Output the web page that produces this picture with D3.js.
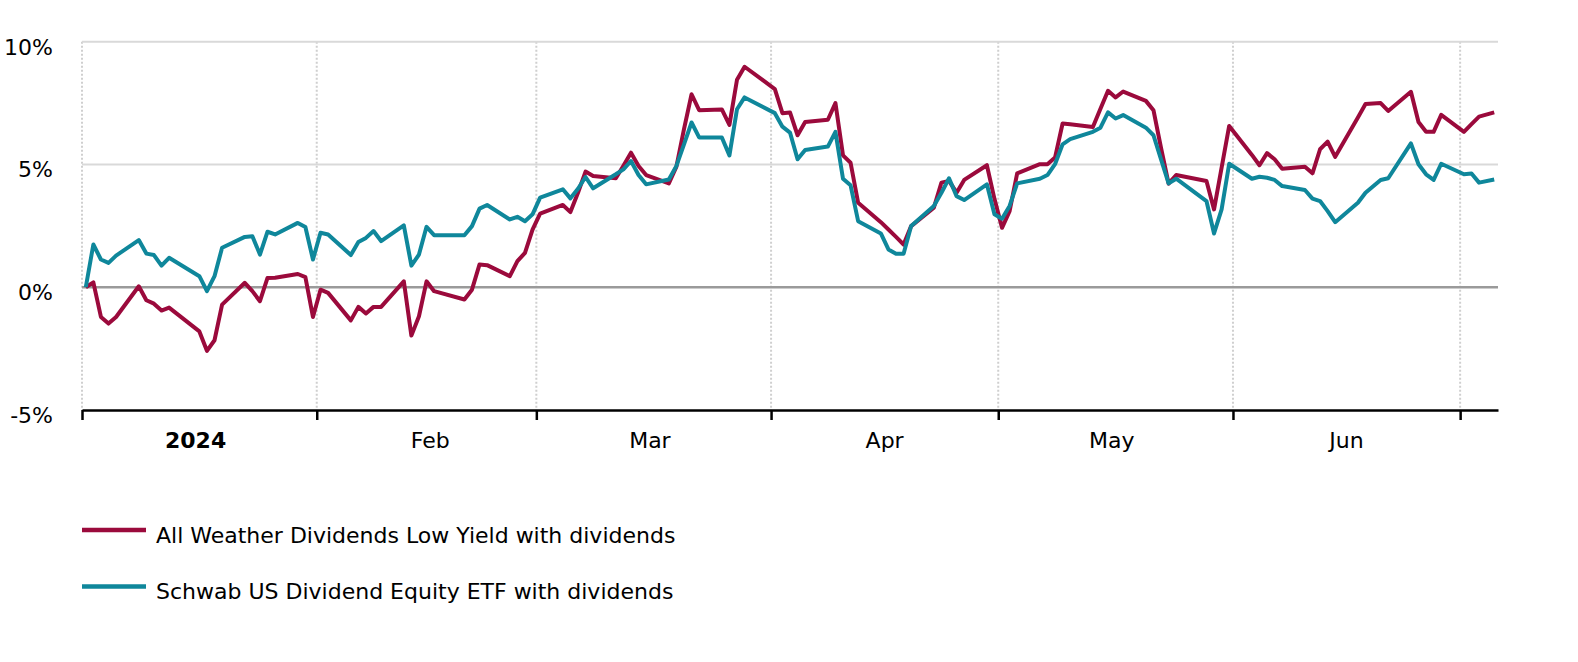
<!DOCTYPE html>
<html>
<head>
<meta charset="utf-8">
<script src="https://cdn.jsdelivr.net/npm/d3@7"></script>
<style>
    body { margin: 0; background: #fff; }
    text { font-family: "DejaVu Sans", Verdana, sans-serif; fill: #000; }
</style>
</head>
<body>
<div id="LineChart"></div>
<script>
var svgWidth = 1578;
var svgHeight = 662;

// trading days (first entry is the 0% base)
var dates = [
    "2024-01-01","2024-01-02","2024-01-03","2024-01-04","2024-01-05","2024-01-08","2024-01-09","2024-01-10","2024-01-11","2024-01-12",
    "2024-01-16","2024-01-17","2024-01-18","2024-01-19","2024-01-22","2024-01-23","2024-01-24","2024-01-25","2024-01-26",
    "2024-01-29","2024-01-30","2024-01-31","2024-02-01","2024-02-02","2024-02-05","2024-02-06","2024-02-07","2024-02-08","2024-02-09",
    "2024-02-12","2024-02-13","2024-02-14","2024-02-15","2024-02-16","2024-02-20","2024-02-21","2024-02-22","2024-02-23",
    "2024-02-26","2024-02-27","2024-02-28","2024-02-29","2024-03-01","2024-03-04","2024-03-05","2024-03-06","2024-03-07","2024-03-08",
    "2024-03-11","2024-03-12","2024-03-13","2024-03-14","2024-03-15","2024-03-18","2024-03-19","2024-03-20","2024-03-21","2024-03-22",
    "2024-03-25","2024-03-26","2024-03-27","2024-03-28","2024-04-01","2024-04-02","2024-04-03","2024-04-04","2024-04-05",
    "2024-04-08","2024-04-09","2024-04-10","2024-04-11","2024-04-12","2024-04-15","2024-04-16","2024-04-17","2024-04-18","2024-04-19",
    "2024-04-22","2024-04-23","2024-04-24","2024-04-25","2024-04-26","2024-04-29","2024-04-30","2024-05-01","2024-05-02","2024-05-03",
    "2024-05-06","2024-05-07","2024-05-08","2024-05-09","2024-05-10","2024-05-13","2024-05-14","2024-05-15","2024-05-16","2024-05-17",
    "2024-05-20","2024-05-21","2024-05-22","2024-05-23","2024-05-24","2024-05-28","2024-05-29","2024-05-30","2024-05-31",
    "2024-06-03","2024-06-04","2024-06-05","2024-06-06","2024-06-07","2024-06-10","2024-06-11","2024-06-12","2024-06-13","2024-06-14",
    "2024-06-17","2024-06-18","2024-06-20","2024-06-21","2024-06-24","2024-06-25","2024-06-26","2024-06-27","2024-06-28",
    "2024-07-01","2024-07-02","2024-07-03","2024-07-05"
];

// All Weather Dividends Low Yield with dividends (%)
var allWeather = [
    0, 0.20, -1.21, -1.48, -1.21, 0.04, -0.53, -0.67, -0.95, -0.83,
    -1.80, -2.59, -2.16, -0.71, 0.18, -0.16, -0.57, 0.38, 0.39,
    0.54, 0.41, -1.21, -0.10, -0.23, -1.35, -0.80, -1.07, -0.80, -0.80,
    0.24, -1.97, -1.18, 0.24, -0.16, -0.50, -0.10, 0.93, 0.90,
    0.45, 1.06, 1.40, 2.35, 3.00, 3.35, 3.06, 3.85, 4.71, 4.53,
    4.44, 4.95, 5.48, 4.94, 4.57, 4.23, 4.91, 6.44, 7.86, 7.21,
    7.24, 6.61, 8.45, 8.98, 8.07, 7.09, 7.12, 6.19, 6.73,
    6.82, 7.50, 5.37, 5.07, 3.44, 2.65, 2.35, 2.05, 1.74, 2.49,
    3.24, 4.26, 4.33, 3.85, 4.37, 4.97, 3.60, 2.42, 3.10, 4.64,
    5.01, 5.01, 5.28, 6.67, 6.64, 6.53, 7.27, 8.00, 7.73, 7.97,
    7.59, 7.21, 5.67, 4.22, 4.57, 4.33, 3.17, 4.87, 6.57,
    5.39, 4.97, 5.46, 5.21, 4.83, 4.91, 4.64, 5.62, 5.93, 5.31,
    6.91, 7.46, 7.50, 7.18, 7.96, 6.73, 6.33, 6.33, 7.02,
    6.33, 6.64, 6.95, 7.12
];

// Schwab US Dividend Equity ETF with dividends (%)
var schwab = [
    0, 1.74, 1.13, 0.99, 1.29, 1.92, 1.37, 1.31, 0.88, 1.20,
    0.45, -0.16, 0.45, 1.61, 2.05, 2.08, 1.33, 2.26, 2.15,
    2.62, 2.45, 1.13, 2.22, 2.15, 1.31, 1.84, 2.01, 2.29, 1.88,
    2.52, 0.88, 1.33, 2.46, 2.12, 2.12, 2.49, 3.20, 3.35,
    2.76, 2.87, 2.69, 2.97, 3.65, 3.99, 3.62, 4.01, 4.49, 4.03,
    4.60, 4.80, 5.14, 4.57, 4.19, 4.39, 4.94, 5.82, 6.71, 6.10,
    6.10, 5.37, 7.25, 7.73, 7.09, 6.54, 6.30, 5.21, 5.59,
    5.73, 6.33, 4.42, 4.15, 2.69, 2.19, 1.54, 1.36, 1.36, 2.49,
    3.31, 3.85, 4.44, 3.71, 3.55, 4.19, 2.97, 2.79, 3.31, 4.23,
    4.42, 4.57, 5.01, 5.82, 6.03, 6.33, 6.50, 7.12, 6.87, 7.01,
    6.50, 6.19, 5.21, 4.23, 4.42, 3.51, 2.19, 3.17, 5.03,
    4.42, 4.50, 4.46, 4.37, 4.12, 3.96, 3.61, 3.51, 3.10, 2.65,
    3.44, 3.85, 4.37, 4.44, 5.86, 5.01, 4.60, 4.37, 5.03,
    4.60, 4.63, 4.26, 4.39
];

var yTicks = [-5, 0, 5, 10];
var monthLabels = ["2024", "Feb", "Mar", "Apr", "May", "Jun"];
var seriesNames = ["All Weather Dividends Low Yield with dividends", "Schwab US Dividend Equity ETF with dividends"];
var seriesColors = ["#9b0a3c", "#0f879b"];

var parseDate = d3.timeParse("%Y-%m-%d");

var plot = { left: 82, right: 1498, top: 41.7, bottom: 410 };

var svg = d3.select("#LineChart")
    .append("svg")
    .attr("width", svgWidth)
    .attr("height", svgHeight);

var xTimeScale = d3.scaleTime()
    .domain([new Date(2024, 0, 1), new Date(2024, 6, 6)])
    .range([plot.left, plot.right]);

var yLinearScale = d3.scaleLinear()
    .domain([-5, 10])
    .range([plot.bottom, plot.top]);

// points sit at midday of each date
var series = [allWeather, schwab].map((vals) => {
    return vals.map((v, i) => ({
        date: d3.timeHour.offset(parseDate(dates[i]), 12),
        value: v
    }));
});

var monthStarts = d3.timeMonth.range(new Date(2024, 0, 1), new Date(2024, 6, 2));

// vertical dotted lines at month starts
svg.append("g")
    .selectAll("line")
    .data(monthStarts)
    .enter()
    .append("line")
        .attr("x1", d => xTimeScale(d))
        .attr("x2", d => xTimeScale(d))
        .attr("y1", plot.top)
        .attr("y2", plot.bottom)
        .attr("stroke", "#cfcfcf")
        .attr("stroke-width", 2)
        .attr("stroke-dasharray", "2,2");

// horizontal grid
svg.append("g")
    .selectAll("line")
    .data(yTicks.filter(t => t > -5))
    .enter()
    .append("line")
        .attr("x1", plot.left)
        .attr("x2", plot.right)
        .attr("y1", d => yLinearScale(d))
        .attr("y2", d => yLinearScale(d))
        .attr("stroke", d => d === 0 ? "#9a9a9a" : "#d9d9d9")
        .attr("stroke-width", d => d === 0 ? 2.5 : 2);

// y labels
svg.append("g")
    .selectAll("text")
    .data(yTicks)
    .enter()
    .append("text")
        .attr("x", 53)
        .attr("y", d => yLinearScale(d) + 13)
        .attr("text-anchor", "end")
        .style("font-size", "22px")
        .text(d => d + "%");

// bottom axis with month ticks, labels drawn mid-month
var bottomAxis = d3.axisBottom(xTimeScale)
    .tickValues(monthStarts)
    .tickSize(10)
    .tickSizeOuter(0)
    .tickFormat("");

var xAxis = svg.append("g")
    .attr("transform", `translate(0, ${plot.bottom})`)
    .call(bottomAxis);

xAxis.select(".domain").attr("stroke", "#000").attr("stroke-width", 2.7);
xAxis.selectAll(".tick line").attr("stroke", "#000").attr("stroke-width", 2.5);

svg.append("g")
    .selectAll("text")
    .data(monthLabels)
    .enter()
    .append("text")
        .attr("x", (d, i) => xTimeScale(new Date(2024, i, 16)))
        .attr("y", 448)
        .attr("text-anchor", "middle")
        .style("font-size", "22px")
        .style("font-weight", (d, i) => i === 0 ? "bold" : "normal")
        .text(d => d);

// lines
var line = d3.line()
    .x(d => xTimeScale(d.date))
    .y(d => yLinearScale(d.value));

svg.append("g")
    .selectAll("path")
    .data(series)
    .enter()
    .append("path")
        .attr("d", line)
        .attr("fill", "none")
        .attr("stroke", (d, i) => seriesColors[i])
        .attr("stroke-width", 4)
        .attr("stroke-linejoin", "round");

// legend
var legend = svg.append("g")
    .selectAll("g")
    .data(seriesNames)
    .enter()
    .append("g")
        .attr("transform", (d, i) => `translate(82, ${530 + i * 56.5})`);

legend.append("line")
    .attr("x1", 0)
    .attr("x2", 64)
    .attr("stroke", (d, i) => seriesColors[i])
    .attr("stroke-width", 4.5);

legend.append("text")
    .attr("x", 74)
    .attr("y", 12.5)
    .style("font-size", "22px")
    .text(d => d);
</script>
</body>
</html>
